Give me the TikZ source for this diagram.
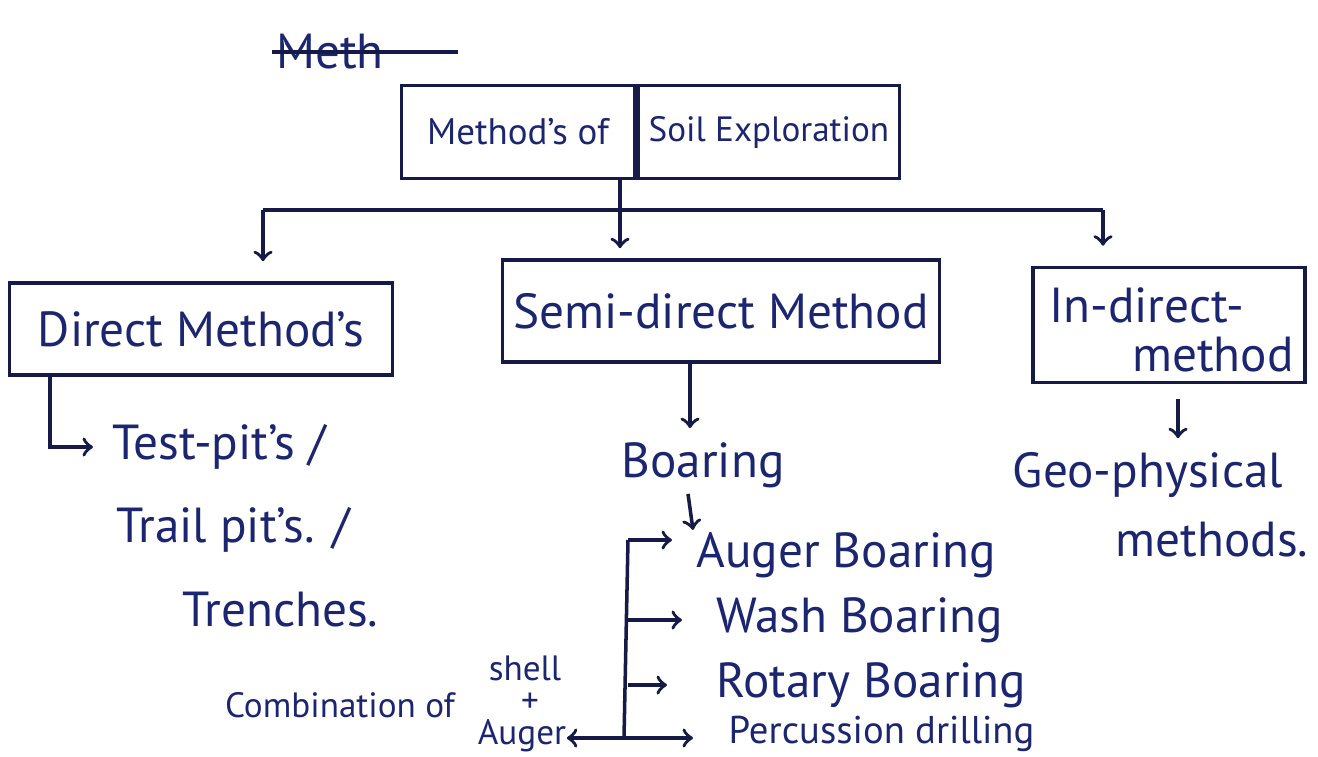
\documentclass[tikz,border=0pt]{standalone}
\usepackage{fontspec}
\setmainfont{PT Sans}
\usetikzlibrary{calc}
\usetikzlibrary{positioning}

\definecolor{ink}{RGB}{22,26,70}
\definecolor{pen}{RGB}{28,38,112}
\tikzset{
  box/.style={draw=ink, line width=1pt, inner sep=0pt, text=pen, font=\fontsize{14}{17}\selectfont},
  hand/.style={text=pen, font=\fontsize{14}{17}\selectfont, inner sep=1pt},
  small/.style={text=pen, font=\fontsize{10}{12}\selectfont, inner sep=0pt},
  link/.style={draw=ink, line width=1pt},
  arr/.style={link, ->},
}

\begin{document}
\begin{tikzpicture}[x=0.01cm, y=-0.01cm]
\useasboundingbox[fill=white] (0,0) rectangle (1318,756);

% crossed-out heading
\node[hand] (scrap) at (330,52) {Meth};
\draw[link] (scrap.west) -- ($(scrap.east)+(70,0)$);

% main box
\node[box, font=\fontsize{10.5}{13}\selectfont, minimum width=2.33cm, minimum height=0.93cm] (mof) at (518,132) {Method's of};
\node[box, font=\fontsize{10}{12}\selectfont, inner xsep=3pt, minimum width=2.35cm, minimum height=0.93cm, right=0pt of mof] (sexp) {Soil Exploration};

% branches
\coordinate (split) at (620,210);
\coordinate (lb) at (263,210);
\coordinate (rb) at (1103,210);
\draw[link] (mof.south -| split) -- (split);
\draw[link] (lb) -- (rb);

\node[box, minimum width=3.83cm, minimum height=0.92cm] (direct) at (201,329) {Direct Method's};
\node[box, minimum width=4.37cm, minimum height=1.02cm] (semi) at (721,311) {Semi-direct Method};
\node[box, minimum width=2.72cm, minimum height=1.15cm] (indirect) at (1169,325) {};
\node[hand, anchor=west] (indtop) at (1045,305) {In-direct-};
\node[hand, anchor=east] (indbot) at (1298,355) {method};

\draw[arr, shorten >=0.2cm] (lb) -- (lb |- direct.north);
\draw[arr, shorten >=0.1cm] (split) -- (split |- semi.north);
\draw[arr, shorten >=0.2cm] (rb) -- (rb |- indirect.north);

% direct methods
\coordinate (dstem) at (50,375);
\node[hand, anchor=west] (testpit) at (108,447) {Test-pit's /};
\node[hand, anchor=west] (trailpit) at (112,530) {Trail pit's. /};
\node[hand, anchor=west] (trench) at (178,610) {Trenches.};
\draw[arr, shorten >=0.15cm] (dstem) |- (testpit.west);

% semi-direct methods
\node[hand] (boaring) at (703,465) {Boaring};
\draw[arr, shorten >=0.1cm] (semi.south -| 690,0) -- (boaring.north -| 690,0);
\draw[arr] ($(boaring.south)+(-15,2)$) -- ++(5,36);

\node[hand, anchor=west] (auger) at (692,555) {Auger Boaring};
\node[hand, anchor=west] (wash) at (712,620) {Wash Boaring};
\node[hand, anchor=west] (rotary) at (712,685) {Rotary Boaring};
\node[hand, anchor=west, inner sep=0pt, font=\fontsize{11}{13}\selectfont] (percussion) at (728,734) {Percussion drilling};

\coordinate (bt) at (628,540);
\coordinate (bb) at (624,738);
\draw[link] (bt) -- (bb);
\draw[arr, shorten >=0.2cm] (bt) -- (bt -| auger.west);
\draw[arr, shorten >=0.3cm] (wash.west -| bt) -- (wash.west);
\draw[arr, shorten >=0.45cm] (rotary.west -| bt) -- (rotary.west);
\draw[arr, shorten >=0.35cm] (bb) -- (bb -| percussion.west);

% combination note
\node[small] (comb) at (340,705) {Combination of};
\node[small] (shell) at (525,668) {shell};
\node[small] (plus) at (530,703) {+};
\node[small] (augerc) at (522,736) {Auger};
\draw[arr] (bb) -- (augerc.east |- bb);

% in-direct methods
\node[hand] (geo) at (1148,475) {Geo-physical};
\node[hand] (geometh) at (1212,540) {methods.};
\draw[arr, shorten <=0.15cm, shorten >=0.1cm] (indirect.south -| 1178,0) -- (geo.north -| 1178,0);
\end{tikzpicture}
\end{document}
